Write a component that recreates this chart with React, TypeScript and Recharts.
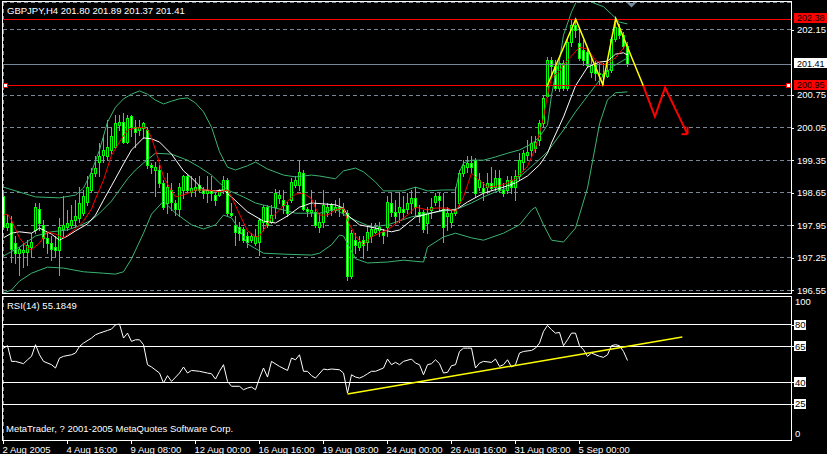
import React from 'react';
import { ComposedChart, Bar, Line, XAxis, YAxis, CartesianGrid, ReferenceLine } from 'recharts';

const FONT = '"Liberation Sans", Arial, sans-serif';
const FS = 9.5;
const GRID = '#778899';
const LIME = '#00ff00';
const BAND = '#3cb371';

// ---- candles (GBPJPY H4), bar index 0 = 2 Aug 2005 00:00 ----
const barOpen = [
  198.57,197.92,197.99,197.56,197.35,197.38,197.38,197.49,197.85,198.31,
  197.96,197.67,197.56,197.49,197.42,197.88,197.92,197.96,198.06,198.10,
  198.21,198.46,198.71,199.07,199.32,199.46,199.43,199.57,199.64,200.11,
  200.18,199.75,200.29,200.07,200.00,200.04,200.00,199.25,199.14,199.14,
  198.85,198.42,198.71,198.42,198.31,198.71,199.00,198.67,198.71,198.82,
  198.71,198.64,198.71,198.60,198.60,198.71,198.92,198.21,197.96,197.92,
  197.88,197.71,197.63,197.56,197.60,198.03,198.35,198.03,198.35,198.53,
  198.49,198.39,198.49,198.82,198.82,199.07,198.31,198.24,198.24,197.92,
  198.03,198.24,198.39,198.28,198.35,198.31,198.21,196.85,197.63,197.49,
  197.63,197.60,197.71,197.81,197.85,197.81,197.92,198.42,198.24,198.24,
  198.31,198.31,198.42,198.53,198.24,198.24,197.99,198.28,198.46,198.57,
  198.31,198.14,198.03,198.21,198.42,199.07,199.21,199.28,199.35,198.78,
  198.75,198.78,198.85,198.78,198.96,198.71,198.71,198.92,198.78,199.00,
  199.32,199.46,199.57,199.61,199.79,200.14,200.72,201.50,201.38,200.90,
  201.44,200.90,201.89,202.26,201.87,201.72,201.68,201.25,201.40,201.22,
  201.20,201.16,201.28,201.95,202.20,202.05,201.80,
];
const barHigh = [
  198.71,198.17,198.14,197.71,197.49,197.56,197.63,197.78,198.42,198.42,
  198.06,197.78,197.71,197.71,198.10,198.57,198.28,198.39,198.49,198.78,
  198.71,199.00,199.18,199.43,199.71,199.89,200.21,200.07,200.32,200.32,
  200.36,200.32,200.32,200.21,200.21,200.18,200.07,199.28,199.32,199.25,
  198.92,199.07,198.85,198.49,198.85,199.03,199.03,199.00,198.96,199.00,
  198.78,199.00,199.00,198.67,198.74,199.00,198.96,198.42,198.14,198.03,
  197.92,197.81,197.78,197.88,198.10,198.39,198.39,198.39,198.74,198.71,
  198.71,198.46,198.96,199.00,199.35,199.14,198.35,198.71,198.49,198.21,
  198.71,198.42,198.42,198.49,198.53,198.42,198.28,197.85,197.78,197.71,
  197.71,197.92,197.99,197.99,198.03,197.88,198.57,198.64,198.49,198.67,
  198.57,198.64,198.71,198.78,198.39,198.28,198.35,198.53,198.64,198.64,
  198.64,198.35,198.31,198.78,199.14,199.35,199.43,199.43,199.39,199.07,
  198.89,199.07,199.21,199.14,199.14,198.85,199.00,199.00,199.14,199.50,
  199.57,199.79,199.86,199.86,200.21,200.75,201.57,201.57,201.50,201.55,
  201.50,201.95,202.37,202.38,202.21,201.94,201.76,201.57,201.48,201.46,
  201.44,201.50,202.00,202.38,202.28,202.10,201.89,
];
const barLow = [
  197.88,197.85,197.17,197.13,196.88,197.06,197.10,197.27,197.78,197.85,
  197.49,197.35,197.20,197.27,196.88,197.71,197.85,197.92,197.92,198.03,
  198.17,198.39,198.67,199.00,199.00,199.32,199.35,199.50,199.61,200.00,
  199.71,199.71,199.86,199.64,199.89,199.82,199.18,199.07,198.57,198.78,
  198.31,198.21,198.28,198.17,198.14,198.53,198.67,198.57,198.57,198.67,
  198.53,198.46,198.49,198.39,198.57,198.64,198.17,198.14,197.53,197.63,
  197.60,197.49,197.60,197.53,197.31,197.85,197.92,197.99,198.10,198.42,
  198.21,198.14,198.46,198.78,198.71,198.28,198.14,198.14,197.92,197.81,
  197.92,198.14,198.17,198.24,198.14,198.17,196.77,196.81,197.35,197.42,
  197.24,197.42,197.60,197.78,197.71,197.56,197.71,198.14,197.99,198.03,
  198.10,198.21,198.21,198.17,198.03,197.81,197.78,198.10,198.39,198.28,
  197.60,197.85,197.92,198.17,198.39,199.00,199.10,199.07,198.57,198.71,
  198.49,198.64,198.71,198.71,198.67,198.57,198.64,198.64,198.49,198.92,
  199.14,199.35,199.43,199.53,199.68,200.06,200.70,201.18,200.86,200.84,
  200.86,200.86,201.80,202.00,201.50,201.40,201.35,201.14,201.07,200.99,
  200.99,201.14,201.25,201.92,201.98,201.76,201.37,
];
const barClose = [
  197.92,197.99,197.45,197.35,197.43,197.42,197.53,197.60,198.35,197.99,
  197.67,197.56,197.45,197.42,197.92,197.96,197.99,198.06,198.14,198.42,
  198.57,198.78,199.07,199.18,199.43,199.57,199.64,199.86,200.14,200.18,
  199.75,200.25,200.07,199.96,200.07,200.14,199.25,199.20,199.21,198.85,
  198.35,198.78,198.46,198.31,198.78,199.00,198.71,198.75,198.78,198.71,
  198.64,198.71,198.65,198.49,198.71,198.92,198.21,198.17,197.81,197.78,
  197.63,197.60,197.71,197.71,198.06,198.35,197.96,198.17,198.64,198.60,
  198.39,198.21,198.89,198.92,199.10,198.31,198.26,198.28,197.96,198.03,
  198.39,198.35,198.28,198.35,198.31,198.24,196.85,197.78,197.53,197.60,
  197.53,197.81,197.88,197.88,197.92,197.74,198.46,198.24,198.14,198.35,
  198.24,198.42,198.53,198.35,198.14,197.88,198.21,198.35,198.57,198.49,
  197.92,198.21,198.21,198.28,199.07,199.25,199.28,199.21,198.64,198.92,
  198.67,198.85,198.75,198.96,198.71,198.64,198.92,198.78,199.00,199.35,
  199.50,199.53,199.71,199.75,200.14,200.69,201.50,201.38,200.90,201.44,
  200.90,201.89,202.26,202.15,201.55,201.50,201.40,201.40,201.22,201.20,
  201.16,201.29,201.95,202.22,202.05,201.80,201.41,
];

// ---- Bollinger bands ----
const upperIdx = [0,8,14,18,20,22,24,26,28,30, 32,34,36,38,40,42,44,46,48,50, 52,54,56,58,61,63,66,70,73,77, 79,83,85,88,90,93,95,100,103,106, 110,113,114,115,117,120,123,126,129,132, 134,136,137,138,139,140,142,144,146,147, 150,152,154,156];
const upperVal = [198.77,198.56,198.54,198.60,198.75,199.10,199.57,200.17,200.49,200.67, 200.77,200.84,200.77,200.64,200.56,200.62,200.67,200.69,200.58,200.39, 200.06,199.53,199.20,199.14,199.23,199.31,199.16,199.03,198.99,199.03, 199.01,198.95,199.12,199.18,199.10,198.88,198.69,198.69,198.77,198.69, 198.71,198.71,199.10,199.29,199.35,199.35,199.42,199.50,199.57,199.70, 199.85,200.11,200.75,201.18,201.50,202.04,202.54,202.90,202.86,202.75, 202.65,202.49,202.32,202.28];
const middleIdx = [0,4,8,12,16,19,22,24,27,29, 31,33,35,38,42,46,49,52,54,56, 60,63,67,70,73,79,83,86,92,96, 102,106,112,114,117,120,123,126,129,131, 133,136,140,143,146,149,152,156];
const middleVal = [197.29,197.48,197.72,197.81,197.85,197.94,198.06,198.21,198.47,198.71, 198.95,199.14,199.29,199.50,199.48,199.35,199.20,199.03,198.86,198.71, 198.56,198.43,198.34,198.28,198.21,198.21,198.30,198.13,197.91,197.96, 198.13,198.21,198.28,198.32,198.43,198.56,198.67,198.75,198.99,199.14, 199.29,199.53,200.00,200.39,200.73,201.07,201.35,201.55];
const lowerIdx = [0,2,4,7,11,15,20,25,28,30, 32,35,37,40,43,47,50,53,55,57, 59,61,65,70,77,79,82,84,85,88, 91,96,100,105,106,110,113,117,120,125, 129,132,133,135,137,140,143,146,149,151, 153,156];
const lowerVal = [196.49,196.56,196.75,196.92,197.05,197.03,196.95,196.92,196.90,196.95, 197.23,197.78,198.19,198.47,198.21,197.96,197.87,197.96,198.17,198.11, 197.85,197.55,197.35,197.33,197.31,197.35,197.53,197.74,197.72,197.23, 197.14,197.16,197.20,197.16,197.48,197.70,197.78,197.68,197.63,197.78, 197.96,198.28,198.34,197.96,197.63,197.59,197.89,198.75,200.13,200.65, 200.80,200.82];

// ---- moving averages ----
const slowMaIdx = [0,2,4,7,9,12,14,16,18,21, 23,25,27,30,32,35,37,39,42,45, 47,50,53,55,57,61,65,68,71,74, 77,83,85,86,89,93,97,99,103,106, 110,113,116,120,125,128,131,134,136,137, 140,143,146,149,151,153,155,156];
const slowMaVal = [197.68,197.78,197.81,197.78,197.89,197.76,197.63,197.72,197.83,197.98, 198.17,198.49,198.80,199.27,199.57,199.83,199.81,199.74,199.48,199.12, 198.97,198.71,198.69,198.71,198.56,198.24,198.04,198.00,198.15,198.34, 198.43,198.39,198.32,198.17,197.96,197.89,197.81,197.85,198.13,198.19, 198.28,198.28,198.45,198.64,198.77,198.86,199.01,199.25,199.50,199.72, 200.28,200.95,201.35,201.46,201.48,201.63,201.66,201.61];
const fastMaIdx = [0,1,2,4,6,7,9,11,13,15, 18,20,22,23,25,27,29,31,33,35, 36,37,38,40,42,43,45,48,51,54, 56,57,59,61,63,64,65,67,69,71, 73,75,77,78,79,81,83,85,86,88, 90,92,94,96,98,101,103,106,108,111, 113,115,117,118,121,124,126,128,131,133, 135,136,137,139,140,142,144,146,148,150, 151,153,155,156];
const fastMaVal = [198.17,198.19,198.06,197.68,197.46,197.42,197.57,197.81,197.76,197.68, 197.87,198.04,198.30,198.52,198.92,199.46,199.74,200.00,200.04,200.06, 200.00,199.83,199.57,198.99,198.69,198.56,198.60,198.71,198.71,198.67, 198.71,198.56,198.19,197.83,197.70,197.72,197.85,198.11,198.28,198.47, 198.62,198.64,198.52,198.32,198.17,198.17,198.28,198.32,198.06,197.72, 197.53,197.70,197.78,197.85,197.98,198.17,198.34,198.28,198.32,198.32, 198.24,198.56,199.07,198.99,198.77,198.80,198.86,198.95,199.22,199.61, 200.26,200.75,201.12,201.27,201.40,201.59,201.78,201.74,201.50,201.40, 201.44,201.55,201.76,201.87];

// ---- drawn objects ----
const patternIdx = [135.8, 143.05, 149.8, 153.05, 159.95];
const patternVal = [200.93, 202.38, 200.98, 202.40, 200.95];
const projIdx = [159.95, 162.85, 165.4, 171.0];
const projVal = [200.95, 200.29, 200.91, 199.91];
const arrowHIdx = [169.5, 171.0];
const arrowHVal = [199.91, 199.91];
const arrowVIdx = [171.0, 171.0];
const arrowVVal = [199.91, 200.07];
const topLevel = 202.38;
const neckLevel = 200.95;
const bidPrice = 201.41;

// ---- RSI(14) ----
const rsiIdx = [
  0,1,2,3,5,6,7,8,9,10,
  12,13,14,15,17,18,19,20,22,23,
  24,26,27,28,29,30,31,32,33,34,
  35,36,37,39,40,41,42,44,45,46,
  47,49,51,52,53,54,55,56,57,59,
  60,61,62,63,64,65,66,67,69,71,
  72,73,74,75,76,77,78,80,81,82,
  84,85,86,87,88,89,90,91,92,93,
  95,96,97,98,99,100,102,103,104,105,
  106,107,108,109,110,111,112,113,114,115,
  116,117,118,119,120,122,123,124,125,126,
  127,128,129,130,132,133,134,135,136,137,
  138,139,140,141,142,143,144,145,146,147,
  149,150,151,152,153,154,155,156,
];
const rsiVal = [
  63.8,65.5,54.6,54.6,53.0,55.7,58.1,66.2,59.2,54.6,
  52.3,50.0,56.9,58.1,59.2,60.4,65.0,67.3,70.8,73.1,
  74.2,76.1,77.0,80.0,80.5,70.8,74.2,68.5,69.6,69.6,
  66.2,52.3,50.7,46.5,39.6,44.7,40.7,46.5,50.7,46.5,
  48.3,47.7,46.5,46.0,42.3,47.7,52.3,40.7,37.3,37.3,
  34.9,36.1,36.8,34.9,43.0,50.0,43.7,54.6,51.1,48.3,
  56.9,55.7,59.2,47.7,47.7,44.7,43.0,49.3,48.8,49.3,
  48.8,46.5,32.6,45.3,43.7,43.0,44.2,46.0,47.7,47.7,
  50.0,56.2,52.3,53.9,52.3,54.6,56.2,53.4,52.3,45.3,
  52.3,53.0,55.7,53.0,46.5,47.0,51.6,52.3,61.5,63.8,
  63.8,63.8,50.0,53.4,54.6,53.9,56.2,51.1,52.3,55.7,
  50.7,52.3,60.4,61.5,62.2,63.8,67.3,75.4,79.6,76.6,
  74.2,74.7,65.5,69.6,74.2,74.2,65.5,62.7,58.1,60.4,
  58.1,57.4,59.2,65.5,66.2,65.5,61.5,55.2,
];
const rsiTrendIdx = [86, 169.7];
const rsiTrendVal = [32.0, 71.5];
const rsiLevels = [80, 65, 40, 25];
const rsiTicks = [0, 25, 40, 65, 80, 100];

// ---- axes ----
const priceTicks = [196.55, 197.25, 197.95, 198.65, 199.35, 200.05, 200.75, 202.15];
const gridIdx = [8,16,24,32,40,48,56,64,72,80,88,96,104,112,120,128,136,144,152,160,168,176,184,192];
const timeIdx = [0,16,32,48,64,80,96,112,128,144];
const timeLabels = ['2 Aug 2005','4 Aug 16:00','9 Aug 08:00','12 Aug 00:00','16 Aug 16:00','19 Aug 08:00','24 Aug 00:00','26 Aug 16:00','31 Aug 08:00','5 Sep 00:00'];

const xDomain: [number, number] = [-0.125, 196.875];
const priceDomain: [number, number] = [196.494, 202.752];

const candles = barOpen.map((o, i) => ({ i, open: o, high: barHigh[i], low: barLow[i], close: barClose[i] }));
const pts = (idx: number[], val: number[]) => idx.map((x, k) => ({ i: x, v: val[k] }));

const Candle = (props: any) => {
  const { x, y, width, height, payload } = props;
  if (x == null || y == null || !payload) return null;
  const top = Math.min(y, y + height);
  const bot = Math.max(y, y + height);
  const { open, high, low, close } = payload;
  const span = high - low;
  const py = (p: number) => (span > 0 ? top + ((high - p) / span) * (bot - top) : top);
  const cx = Math.floor(x + width / 2) + 0.5;
  const bt = Math.round(Math.min(py(open), py(close)));
  const bb = Math.round(Math.max(py(open), py(close)));
  const bull = close >= open;
  return (
    <g>
      <line x1={cx} x2={cx} y1={Math.round(top)} y2={Math.round(bot) + 1} stroke={LIME} strokeWidth={1} />
      <rect x={cx - 1.5} y={bt} width={3} height={Math.max(1, bb - bt + 1)} fill={LIME} />
      {bb - bt >= 2 && <rect x={cx - 0.5} y={bt + 1} width={1} height={bb - bt - 1} fill={bull ? '#000' : '#fff'} />}
    </g>
  );
};

const PriceTick = (props: any) => {
  const { x, y, payload } = props;
  const yy = Math.round(y) + 0.5;
  return (
    <g>
      <line x1={x} x2={x + 3} y1={yy} y2={yy} stroke="#fff" />
      <text x={x + 6} y={y + 3.4} fill="#fff" fontSize={FS} fontFamily={FONT}>{Number(payload.value).toFixed(2)}</text>
    </g>
  );
};

const boxLabel = (text: string, bg: string, fg: string) => (p: any) => {
  const vb = p.viewBox || {};
  const right = (vb.x || 0) + (vb.width || 0);
  const y = vb.y || 0;
  return (
    <g>
      <rect x={right + 3} y={Math.round(y) - 6} width={33} height={10} fill={bg} />
      <text x={right + 6} y={y + 2.2} fill={fg} fontSize={9} fontFamily={FONT}>{text}</text>
    </g>
  );
};

const RsiTick = (props: any) => {
  const { x, y, payload } = props;
  const v = payload.value;
  const yy = Math.round(y) + 0.5;
  if (v === 100 || v === 0) {
    const ty = v === 100 ? y + 6 : y - 6;
    return <text x={x + 4} y={ty + 3.4} fill="#fff" fontSize={FS} fontFamily={FONT}>{v}</text>;
  }
  return (
    <g>
      <line x1={x} x2={x + 3} y1={yy} y2={yy} stroke="#fff" />
      <rect x={x + 3} y={Math.round(y) - 5} width={12} height={10} fill="#fff" />
      <text x={x + 4} y={y + 3.4} fill="#000" fontSize={FS} fontFamily={FONT}>{v}</text>
    </g>
  );
};

const TimeTick = (props: any) => {
  const { x, y, payload } = props;
  const k = timeIdx.indexOf(payload.value);
  const xx = Math.floor(x) + 0.5;
  return (
    <g>
      <line x1={xx} x2={xx} y1={y} y2={y + 4} stroke="#fff" />
      <text x={x - 1} y={y + 13.4} fill="#fff" fontSize={FS} fontFamily={FONT}>{k >= 0 ? timeLabels[k] : ''}</text>
    </g>
  );
};

export default function App() {
  return (
    <div style={{ position: 'absolute', left: 0, top: 0, width: 827, height: 454, background: '#000', overflow: 'hidden' }}>
      <div style={{ position: 'absolute', left: 0, top: 0 }}>
        <ComposedChart width={827} height={296} data={candles} margin={{ top: 2, right: 0, bottom: 3, left: 3 }}>
          <CartesianGrid stroke={GRID} strokeDasharray="4 3" shapeRendering="crispEdges" />
          <XAxis dataKey="i" type="number" domain={xDomain} ticks={gridIdx} allowDataOverflow height={0} tick={false} axisLine={false} tickLine={false} />
          <YAxis orientation="right" type="number" domain={priceDomain} ticks={priceTicks} allowDataOverflow width={36} axisLine={false} tickLine={false} tickSize={0} tickMargin={0} interval={0} tick={<PriceTick />} />
          <ReferenceLine y={bidPrice} stroke={GRID} shapeRendering="crispEdges" label={boxLabel('201.41', '#fff', '#000')} />
          <Bar dataKey={(d: any) => [d.low, d.high]} shape={<Candle />} barSize={3} isAnimationActive={false} />
          <Line data={pts(upperIdx, upperVal)} dataKey="v" type="linear" stroke={BAND} strokeWidth={1} dot={false} activeDot={false} isAnimationActive={false} />
          <Line data={pts(middleIdx, middleVal)} dataKey="v" type="linear" stroke={BAND} strokeWidth={1} dot={false} activeDot={false} isAnimationActive={false} />
          <Line data={pts(lowerIdx, lowerVal)} dataKey="v" type="linear" stroke={BAND} strokeWidth={1} dot={false} activeDot={false} isAnimationActive={false} />
          <Line data={pts(slowMaIdx, slowMaVal)} dataKey="v" type="linear" stroke="#ffffff" strokeWidth={1} dot={false} activeDot={false} isAnimationActive={false} />
          <Line data={pts(fastMaIdx, fastMaVal)} dataKey="v" type="linear" stroke="#ff0000" strokeWidth={1} dot={false} activeDot={false} isAnimationActive={false} />
          <ReferenceLine y={topLevel} stroke="#ff0000" shapeRendering="crispEdges" label={boxLabel('202.38', '#ff0000', '#000')} />
          <ReferenceLine y={neckLevel} stroke="#ff0000" shapeRendering="crispEdges" label={boxLabel('200.95', '#ff0000', '#000')} />
          <Line data={pts(patternIdx, patternVal)} dataKey="v" type="linear" stroke="#ffff00" strokeWidth={1.5} dot={false} activeDot={false} isAnimationActive={false} />
          <Line data={pts(projIdx, projVal)} dataKey="v" type="linear" stroke="#ff0000" strokeWidth={2} dot={false} activeDot={false} isAnimationActive={false} />
          <Line data={pts(arrowHIdx, arrowHVal)} dataKey="v" type="linear" stroke="#ff0000" strokeWidth={2} dot={false} activeDot={false} isAnimationActive={false} />
          <Line data={pts(arrowVIdx, arrowVVal)} dataKey="v" type="linear" stroke="#ff0000" strokeWidth={2} dot={false} activeDot={false} isAnimationActive={false} />
        </ComposedChart>
      </div>
      <div style={{ position: 'absolute', left: 0, top: 296 }}>
        <ComposedChart width={827} height={158} margin={{ top: 0, right: 0, bottom: 0, left: 3 }}>
          <CartesianGrid horizontal={false} stroke={GRID} strokeDasharray="4 3" shapeRendering="crispEdges" />
          <XAxis dataKey="i" type="number" domain={xDomain} ticks={gridIdx} allowDataOverflow height={0} tick={false} axisLine={false} tickLine={false} />
          <XAxis xAxisId="t" dataKey="i" type="number" domain={xDomain} ticks={timeIdx} allowDataOverflow height={14} axisLine={false} tickLine={false} tickSize={0} tickMargin={0} interval={0} tick={<TimeTick />} />
          <YAxis orientation="right" type="number" domain={[0, 100]} ticks={rsiTicks} allowDataOverflow width={36} axisLine={false} tickLine={false} tickSize={0} tickMargin={0} interval={0} tick={<RsiTick />} />
          {rsiLevels.map((lv) => (
            <ReferenceLine key={lv} y={lv} stroke="#ffffff" shapeRendering="crispEdges" />
          ))}
          <Line data={pts(rsiIdx, rsiVal)} dataKey="v" type="linear" stroke="#ffffff" strokeWidth={1} dot={false} activeDot={false} isAnimationActive={false} />
          <Line data={pts(rsiTrendIdx, rsiTrendVal)} dataKey="v" type="linear" stroke="#ffff00" strokeWidth={1.5} dot={false} activeDot={false} isAnimationActive={false} />
        </ComposedChart>
      </div>
      <svg width={827} height={454} style={{ position: 'absolute', left: 0, top: 0, pointerEvents: 'none' }}>
        <rect x={2.5} y={1.5} width={789} height={292} fill="none" stroke="#fff" />
        <rect x={2.5} y={296.5} width={789} height={144} fill="none" stroke="#fff" />
        <text x={7} y={13.5} fill="#fff" fontSize={FS} fontFamily={FONT}>GBPJPY,H4  201.80 201.89 201.37 201.41</text>
        <text x={7} y={308.5} fill="#fff" fontSize={FS} fontFamily={FONT}>RSI(14) 55.1849</text>
        <text x={6} y={432} fill="#fff" fontSize={FS} fontFamily={FONT}>MetaTrader, ? 2001-2005 MetaQuotes Software Corp.</text>
        <polygon points="627,3 636,3 631.5,7.5" fill={GRID} />
        <rect x={3.5} y={83.5} width={4} height={4} fill="#fff" stroke="#ff0000" />
        <rect x={786.5} y={83.5} width={4} height={4} fill="#fff" stroke="#ff0000" />
      </svg>
    </div>
  );
}
